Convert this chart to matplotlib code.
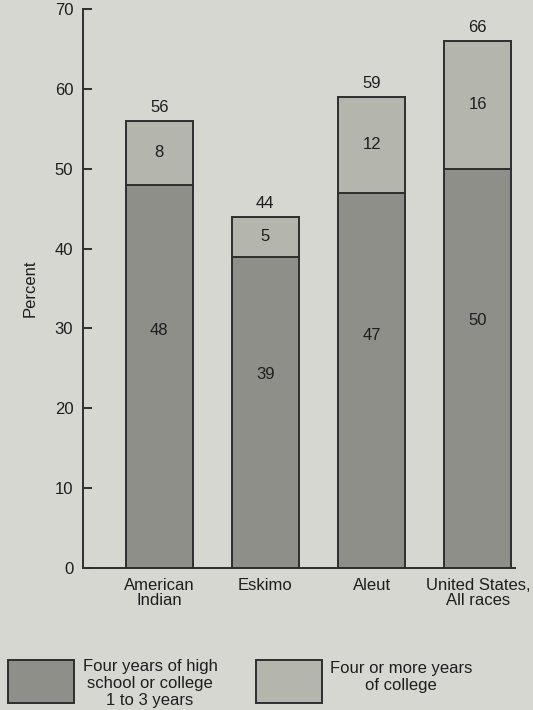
import matplotlib
matplotlib.use("Agg")
import matplotlib.pyplot as plt
from matplotlib.patches import Rectangle

# data
groups = ["American\nIndian", "Eskimo", "Aleut", "United States,\nAll races"]
high_school = [48, 39, 47, 50]   # four years of high school or 1-3 years of college
college = [8, 5, 12, 16]         # four or more years of college
totals = [56, 44, 59, 66]
legend_labels = ["Four years of high\nschool or college\n1 to 3 years",
                 "Four or more years\nof college"]

bg = "#d6d7d0"
dark = "#8e8f89"
light = "#b4b5ad"
edge = "#2e2e2e"
txt = "#1e1e1e"
fs = 12

plt.rcParams["font.family"] = ["Liberation Sans", "DejaVu Sans"]

fig = plt.figure(figsize=(5.33, 7.10), dpi=100, facecolor=bg)
ax = fig.add_axes([0.1557, 0.2, 0.8105, 0.7873], facecolor=bg)

x = list(range(len(groups)))
w = 0.63
ax.bar(x, high_school, width=w, color=dark, edgecolor=edge, linewidth=1.4)
ax.bar(x, college, width=w, bottom=high_school, color=light, edgecolor=edge, linewidth=1.4)

for i in x:
    # lower label sits a bit above the middle of its segment, as in the original
    ax.text(i, high_school[i] * 0.62, str(high_school[i]), ha="center", va="center",
            fontsize=fs, color=txt)
    ax.text(i, high_school[i] + college[i] / 2, str(college[i]), ha="center", va="center",
            fontsize=fs, color=txt)
    ax.text(i, high_school[i] + college[i] + 0.7, str(totals[i]), ha="center", va="bottom",
            fontsize=fs, color=txt)

ax.set_xlim(-0.717, 3.35)
ax.set_ylim(0, 70)
ax.set_yticks(range(0, 71, 10))
ax.set_xticks(x)
ax.set_xticklabels(groups, fontsize=fs, color=txt, linespacing=1.05)
ax.tick_params(axis="y", direction="in", length=6.5, width=1.4, pad=7,
               labelsize=fs, labelcolor=txt, color=edge)
ax.tick_params(axis="x", length=0, pad=7)
for s in ["top", "right"]:
    ax.spines[s].set_visible(False)
for s in ["left", "bottom"]:
    ax.spines[s].set_linewidth(1.4)
    ax.spines[s].set_color(edge)
ax.set_ylabel("Percent", fontsize=fs, color=txt, labelpad=12)

# legend drawn by hand below the plot
W, H = 533, 710
boxes = [(8, 660), (256, 660)]
text_x = [150, 401]
text_y = [659, 661]
for (bx, by), col, lab, tx, ty in zip(boxes, [dark, light], legend_labels, text_x, text_y):
    fig.patches.append(Rectangle((bx / W, 1 - (by + 43) / H), 66 / W, 43 / H,
                                 transform=fig.transFigure, facecolor=col,
                                 edgecolor=edge, linewidth=1.4))
    fig.text(tx / W, 1 - ty / H, lab, ha="center", va="top", fontsize=fs,
             color=txt, linespacing=1.15)

plt.savefig("out.png", dpi=100, facecolor=bg)
